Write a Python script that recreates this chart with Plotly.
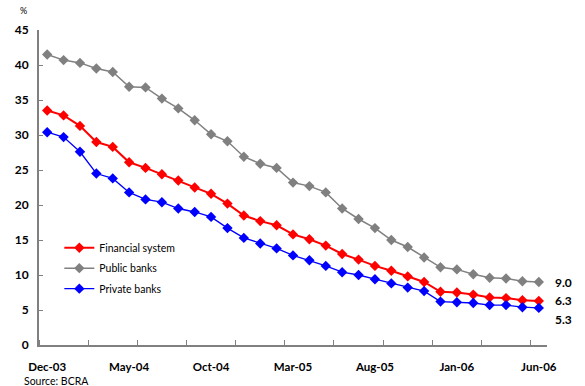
import plotly.graph_objects as go

# Monthly observations, Dec-03 .. Jun-06
months = ["Dec-03", "Jan-04", "Feb-04", "Mar-04", "Apr-04", "May-04", "Jun-04", "Jul-04",
          "Aug-04", "Sep-04", "Oct-04", "Nov-04", "Dec-04", "Jan-05", "Feb-05", "Mar-05",
          "Apr-05", "May-05", "Jun-05", "Jul-05", "Aug-05", "Sep-05", "Oct-05", "Nov-05",
          "Dec-05", "Jan-06", "Feb-06", "Mar-06", "Apr-06", "May-06", "Jun-06"]

financial_system = [33.5, 32.8, 31.3, 29.0, 28.3, 26.1, 25.3, 24.4, 23.5, 22.5, 21.6, 20.2,
                    18.5, 17.7, 17.1, 15.8, 15.1, 14.2, 13.0, 12.2, 11.3, 10.6, 9.8, 9.0,
                    7.6, 7.5, 7.2, 6.8, 6.7, 6.4, 6.3]
public_banks = [41.5, 40.7, 40.3, 39.5, 39.0, 36.9, 36.8, 35.2, 33.8, 32.1, 30.1, 29.1,
                26.9, 25.9, 25.3, 23.2, 22.7, 21.8, 19.5, 18.0, 16.7, 15.0, 14.0, 12.5,
                11.1, 10.8, 10.1, 9.6, 9.5, 9.1, 9.0]
private_banks = [30.4, 29.7, 27.6, 24.5, 23.8, 21.8, 20.8, 20.4, 19.5, 19.0, 18.3, 16.7,
                 15.3, 14.5, 13.8, 12.8, 12.1, 11.3, 10.4, 10.0, 9.4, 8.8, 8.2, 7.7,
                 6.2, 6.1, 6.0, 5.7, 5.7, 5.4, 5.3]

label_every = 5
x = list(range(len(months)))
label_pos = x[::label_every]
label_text = months[::label_every]

FONT = "Lato"
AXIS_GRAY = "#808080"

series = [
    ("Financial system", financial_system, "#FF0000", 2.0),
    ("Public banks", public_banks, "#808080", 1.5),
    ("Private banks", private_banks, "#0000FF", 1.3),
]

fig = go.Figure()
for name, vals, color, lw in series:
    fig.add_trace(go.Scatter(
        x=x, y=vals, name=name, mode="lines+markers", legendgroup=name,
        line=dict(color=color, width=lw),
        marker=dict(symbol="diamond", size=8, color=color),
    ))

# End-of-period value labels
end_shift = {"Financial system": 0, "Public banks": 0, "Private banks": -12}
for name, vals, color, lw in series:
    fig.add_annotation(
        x=x[-1], y=vals[-1], xref="x", yref="y",
        text=f"<b>{vals[-1]:.1f}</b>", showarrow=False,
        xanchor="left", xshift=14, yshift=end_shift[name],
        font=dict(family=FONT, size=12, color="black"),
    )

W, H = 585, 386
L, R, T, B = 39, 38, 30, 41


def px_to_paper(px, py):
    return (px - L) / (W - L - R), 1 - (py - T) / (H - T - B)


px_, py_ = px_to_paper(23, 10)
fig.add_annotation(
    x=px_, y=py_, xref="paper", yref="paper", xanchor="center", yanchor="middle",
    text="%", showarrow=False,
    font=dict(family=FONT, size=9, color="black"),
)
px_, py_ = px_to_paper(22, 380.5)
fig.add_annotation(
    x=px_, y=py_, xref="paper", yref="paper", showarrow=False,
    text="Source: BCRA", xanchor="left", yanchor="middle",
    font=dict(family=FONT, size=10.5, color="black"),
)

fig.update_layout(
    width=W, height=H,
    margin=dict(l=L, r=R, t=T, b=B, autoexpand=False),
    plot_bgcolor="white", paper_bgcolor="white",
    showlegend=True,
    legend=dict(
        x=0.04, y=0.355, xanchor="left", yanchor="top",
        bgcolor="rgba(0,0,0,0)", tracegroupgap=1.5,
        font=dict(family=FONT, size=10.5, color="black"),
    ),
    xaxis=dict(
        range=[-0.5, len(months) - 0.5], automargin=False,
        tickmode="array", tickvals=label_pos, ticktext=[f"<b>{t}</b>" for t in label_text],
        ticks="", showgrid=False, zeroline=False,
        showline=True, linecolor=AXIS_GRAY, linewidth=2,
        tickfont=dict(family=FONT, size=11.5, color="black"),
        ticklabelstandoff=10,
        minor=dict(tickmode="linear", tick0=-0.5 + 3, dtick=3, ticks="inside",
                   ticklen=5, tickcolor=AXIS_GRAY, tickwidth=1, showgrid=False),
    ),
    yaxis=dict(
        range=[0, 45], tickmode="linear", tick0=0, dtick=5, automargin=False,
        ticks="inside", ticklen=4, tickcolor=AXIS_GRAY, tickwidth=1,
        showgrid=False, zeroline=False,
        showline=True, linecolor=AXIS_GRAY, linewidth=2,
        tickfont=dict(family=FONT, size=12, color="black"),
        tickprefix="<b>", ticksuffix="</b>",
        ticklabelstandoff=6,
    ),
)

fig.write_html("out.html")
